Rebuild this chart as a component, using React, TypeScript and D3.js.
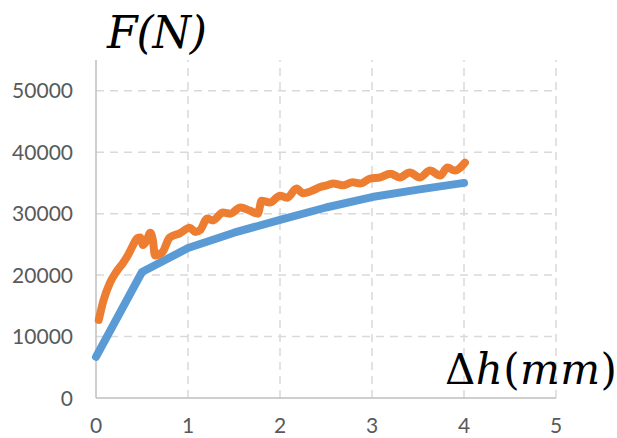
import React, { useRef, useEffect } from 'react';
import * as d3 from 'd3';

// blue series (smooth model curve)
const blueX = [0, 0.5, 1, 1.5, 2, 2.5, 3, 3.5, 4];
const blueY = [6700, 20500, 24400, 26900, 29000, 31000, 32700, 33900, 35000];

// orange series (measured, noisy)
const orangeX = [0.03, 0.08, 0.15, 0.22, 0.29, 0.35, 0.4, 0.45, 0.48, 0.51, 0.55, 0.59, 0.62, 0.64, 0.72, 0.8, 0.91,
  1.02, 1.08, 1.13, 1.21, 1.27, 1.38, 1.46, 1.57, 1.67, 1.76, 1.8, 1.89, 2.0, 2.08, 2.18, 2.25, 2.36, 2.43, 2.51,
  2.58, 2.68, 2.79, 2.87, 2.98, 3.09, 3.2, 3.3, 3.41, 3.52, 3.63, 3.74, 3.82, 3.9, 4.01];
const orangeY = [12700, 15800, 18700, 20500, 21900, 23300, 24800, 26000, 26100, 24900, 25600, 26900, 25500, 23200,
  23700, 26100, 26800, 27700, 27000, 27300, 29200, 28900, 30200, 30000, 31000, 30500, 30000, 32100, 31800, 32900,
  32600, 34100, 33300, 33800, 34300, 34600, 34900, 34600, 35100, 34900, 35700, 35900, 36500, 35900, 36700, 35900,
  37000, 36200, 37500, 37000, 38300];

const xTicks = [0, 1, 2, 3, 4, 5];
const yTicks = [0, 10000, 20000, 30000, 40000, 50000];

function App() {
  const ref = useRef<SVGSVGElement>(null);
  const width = 617;
  const height = 438;
  const margin = { top: 60, right: 61, bottom: 40, left: 96 };

  useEffect(() => {
    const svg = d3.select(ref.current);
    svg.selectAll("*").remove();

    const x = d3.scaleLinear().domain([0, 5]).range([margin.left, width - margin.right]);
    const y = d3.scaleLinear().domain([0, 55000]).range([height - margin.bottom, margin.top]);

    const grid = svg.append("g")
      .attr("stroke", "#d9d9d9")
      .attr("stroke-width", 1.5)
      .attr("stroke-dasharray", "8,6");

    grid.selectAll("line.h")
      .data(yTicks.filter(d => d > 0))
      .enter()
      .append("line")
      .attr("x1", x(0)).attr("x2", x(5))
      .attr("y1", d => y(d)).attr("y2", d => y(d));

    grid.selectAll("line.v")
      .data(xTicks.filter(d => d > 0))
      .enter()
      .append("line")
      .attr("x1", d => x(d)).attr("x2", d => x(d))
      .attr("y1", y(0)).attr("y2", y(55000));

    // axis lines
    svg.append("line")
      .attr("x1", x(0)).attr("x2", x(0))
      .attr("y1", y(0)).attr("y2", y(55000))
      .attr("stroke", "#bfbfbf").attr("stroke-width", 1.5);
    svg.append("line")
      .attr("x1", x(0)).attr("x2", x(5))
      .attr("y1", y(0)).attr("y2", y(0))
      .attr("stroke", "#bfbfbf").attr("stroke-width", 1.5);

    // tick labels
    svg.selectAll("text.yl")
      .data(yTicks)
      .enter()
      .append("text")
      .attr("x", 73)
      .attr("y", d => y(d))
      .attr("dy", "0.36em")
      .attr("text-anchor", "end")
      .attr("font-family", "Lato")
      .attr("font-size", 21)
      .attr("fill", "#595959")
      .text(d => d);

    svg.selectAll("text.xl")
      .data(xTicks)
      .enter()
      .append("text")
      .attr("x", d => x(d))
      .attr("y", 433)
      .attr("text-anchor", "middle")
      .attr("font-family", "Lato")
      .attr("font-size", 21)
      .attr("fill", "#595959")
      .text(d => d);

    svg.append("path")
      .datum(blueX.map((v, i) => [v, blueY[i]]))
      .attr("d", d3.line<any>().x(d => x(d[0])).y(d => y(d[1])))
      .attr("fill", "none")
      .attr("stroke", "#5b9bd5")
      .attr("stroke-width", 8)
      .attr("stroke-linecap", "round")
      .attr("stroke-linejoin", "round");

    svg.append("path")
      .datum(orangeX.map((v, i) => [v, orangeY[i]]))
      .attr("d", d3.line<any>().x(d => x(d[0])).y(d => y(d[1])).curve(d3.curveMonotoneX))
      .attr("fill", "none")
      .attr("stroke", "#ed7d31")
      .attr("stroke-width", 8)
      .attr("stroke-linecap", "round")
      .attr("stroke-linejoin", "round");

    // axis titles
    svg.append("text")
      .attr("x", 107)
      .attr("y", 48)
      .attr("font-family", "DejaVu Serif")
      .attr("font-style", "italic")
      .attr("font-size", 44)
      .attr("textLength", 100)
      .attr("fill", "#000")
      .text("F(N)");

    svg.append("text")
      .attr("x", 445)
      .attr("y", 384)
      .attr("font-family", "DejaVu Serif")
      .attr("font-size", 42)
      .attr("textLength", 172)
      .attr("fill", "#000")
      .call(t => {
        t.append("tspan").text("Δ");
        t.append("tspan").attr("font-style", "italic").text("h");
        t.append("tspan").text("(");
        t.append("tspan").attr("font-style", "italic").text("mm");
        t.append("tspan").text(")");
      });
  }, []);

  return (
    <svg ref={ref} width={width} height={height}
      style={{ position: "absolute", left: 0, top: 0, background: "#fff" }}>
    </svg>
  );
}

export default App;
